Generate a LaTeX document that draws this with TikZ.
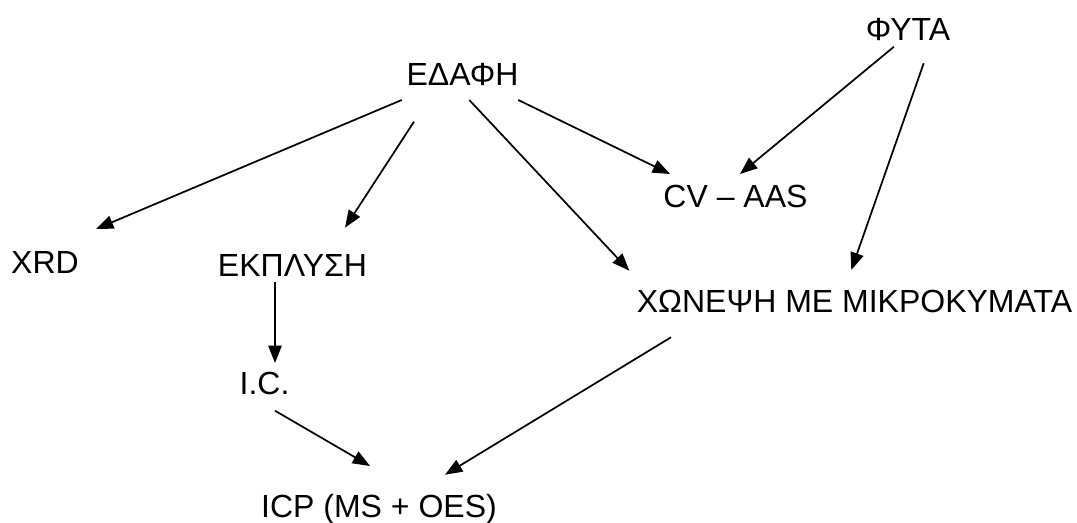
\documentclass[tikz,border=0pt]{standalone}
\usepackage{fontspec}
\setmainfont{Liberation Sans}
\usetikzlibrary{arrows.meta}
\begin{document}
\begin{tikzpicture}[x=0.75pt,y=-0.75pt,
  lbl/.style={anchor=base,inner sep=0pt,font=\fontsize{24}{28}\selectfont},
  arr/.style={-{Triangle[length=13pt,width=10pt]},line width=1.3pt}]
\useasboundingbox (0,0) rectangle (1077,523);
\node[lbl] (edafi) at (462.5,86) {ΕΔΑΦΗ};
\node[lbl] (fyta) at (908,41) {ΦΥΤΑ};
\node[lbl] (xrd) at (45,274) {XRD};
\node[lbl] (ekplysi) at (292.5,277) {ΕΚΠΛΥΣΗ};
\node[lbl] (cvaas) at (735.5,208) {CV – AAS};
\node[lbl] (xoneysi) at (854.5,313) {ΧΩΝΕΨΗ ΜΕ ΜΙΚΡΟΚΥΜΑΤΑ};
\node[lbl] (ic) at (264.5,395) {I.C.};
\node[lbl] (icp) at (379,517) {ICP (MS + OES)};
\draw[arr] ([shift={(-60.8,14)}]edafi.base) -- ([shift={(51,-45)}]xrd.base);
\draw[arr] ([shift={(-48.5,35.7)}]edafi.base) -- ([shift={(52.5,-49.3)}]ekplysi.base);
\draw[arr] ([shift={(6.8,14)}]edafi.base) -- ([shift={(-225.2,-42.3)}]xoneysi.base);
\draw[arr] ([shift={(55.8,14)}]edafi.base) -- ([shift={(-65.5,-34)}]cvaas.base);
\draw[arr] ([shift={(-14,5.7)}]fyta.base) -- ([shift={(4.5,-34)}]cvaas.base);
\draw[arr] ([shift={(15.7,22.3)}]fyta.base) -- ([shift={(-3.2,-43)}]xoneysi.base);
\draw[arr] ([shift={(-17.5,5.3)}]ekplysi.base) -- ([shift={(10.5,-32)}]ic.base);
\draw[arr] ([shift={(10.5,15.7)}]ic.base) -- ([shift={(-9,-51)}]icp.base);
\draw[arr] ([shift={(-183.5,24.3)}]xoneysi.base) -- ([shift={(66,-42.3)}]icp.base);
\end{tikzpicture}
\end{document}
